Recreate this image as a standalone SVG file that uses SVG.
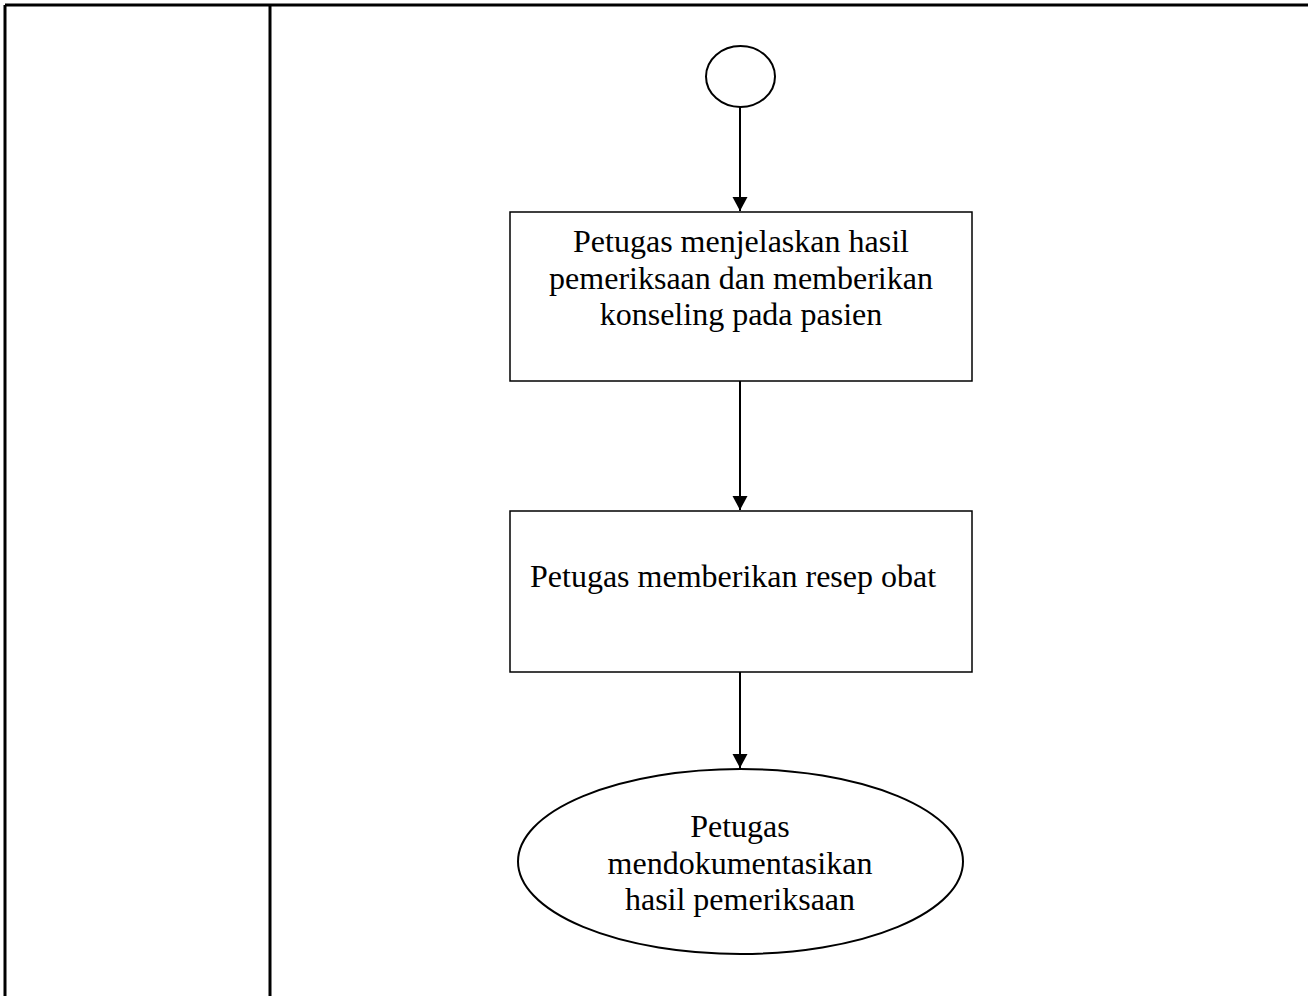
<svg xmlns="http://www.w3.org/2000/svg" width="1308" height="996" viewBox="0 0 1308 996">
<style>
.frame{stroke:#000;stroke-width:3;fill:none}
.box{stroke:#000;stroke-width:1.5;fill:#fff}
.oval{stroke:#000;stroke-width:2;fill:#fff}
.conn{stroke:#000;stroke-width:2;fill:none}
text{font-family:"Liberation Serif","Times New Roman",serif;font-size:32px;fill:#000}
</style>
<defs>
<marker id="ah" markerUnits="userSpaceOnUse" markerWidth="16" markerHeight="16" refX="14" refY="7.5" orient="auto">
<path d="M0,0 L14,7.5 L0,15 z" fill="#000"/>
</marker>
</defs>
<rect width="1308" height="996" fill="#fff"/>
<g id="frame">
<line class="frame" x1="5" y1="5" x2="1308" y2="5"/>
<line class="frame" x1="5" y1="5" x2="5" y2="996"/>
<line class="frame" x1="270" y1="5" x2="270" y2="996"/>
</g>
<g id="connectors">
<line class="conn" x1="740" y1="107" x2="740" y2="211" marker-end="url(#ah)"/>
<line class="conn" x1="740" y1="381" x2="740" y2="510" marker-end="url(#ah)"/>
<line class="conn" x1="740" y1="669" x2="740" y2="768" marker-end="url(#ah)"/>
</g>
<g id="start">
<ellipse class="oval" cx="740.5" cy="76.5" rx="34.5" ry="30.5"/>
</g>
<g id="step1">
<rect class="box" x="510" y="212" width="462" height="169"/>
<text x="741" y="252" text-anchor="middle">Petugas menjelaskan hasil</text>
<text x="741" y="288.5" text-anchor="middle">pemeriksaan dan memberikan</text>
<text x="741" y="325" text-anchor="middle">konseling pada pasien</text>
</g>
<g id="step2">
<rect class="box" x="510" y="511" width="462" height="161"/>
<text x="530" y="587">Petugas memberikan resep obat</text>
</g>
<g id="end">
<ellipse class="oval" cx="740.5" cy="861.5" rx="222.5" ry="92.5"/>
<text x="740" y="837" text-anchor="middle">Petugas</text>
<text x="740" y="873.5" text-anchor="middle">mendokumentasikan</text>
<text x="740" y="910" text-anchor="middle">hasil pemeriksaan</text>
</g>
</svg>
